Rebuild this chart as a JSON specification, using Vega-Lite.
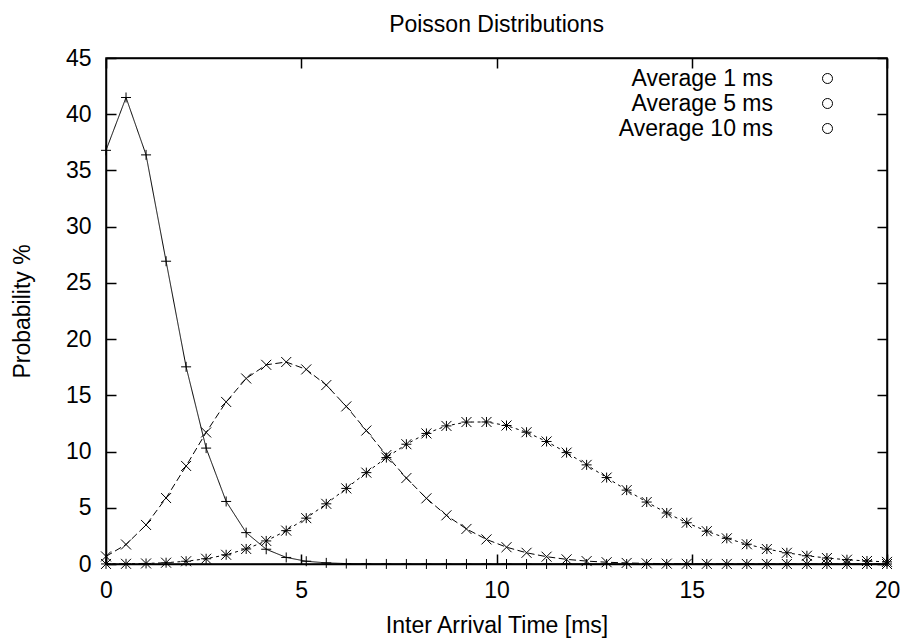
{
  "$schema": "https://vega.github.io/schema/vega-lite/v6.json",
  "autosize": "none",
  "width": 781,
  "height": 506,
  "padding": {"left": 106, "top": 58, "right": 17, "bottom": 75},
  "background": "white",
  "title": {"text": "Poisson Distributions", "fontSize": 23, "fontWeight": "normal", "color": "#000", "font": "Liberation Sans", "offset": 10, "frame": "group", "anchor": "middle"},
  "config": {
    "font": "Liberation Sans",
    "view": {"stroke": "#000", "strokeWidth": 1.5}
  },
  "data": {"values": [
    {"t": 0, "p": 36.788, "s": "Average 1 ms"},
    {"t": 0.5128, "p": 41.488, "s": "Average 1 ms"},
    {"t": 1.0256, "p": 36.384, "s": "Average 1 ms"},
    {"t": 1.5385, "p": 26.926, "s": "Average 1 ms"},
    {"t": 2.0513, "p": 17.535, "s": "Average 1 ms"},
    {"t": 2.5641, "p": 10.307, "s": "Average 1 ms"},
    {"t": 3.0769, "p": 5.562, "s": "Average 1 ms"},
    {"t": 3.5897, "p": 2.789, "s": "Average 1 ms"},
    {"t": 4.1026, "p": 1.312, "s": "Average 1 ms"},
    {"t": 4.6154, "p": 0.583, "s": "Average 1 ms"},
    {"t": 5.1282, "p": 0.246, "s": "Average 1 ms"},
    {"t": 5.641, "p": 0.099, "s": "Average 1 ms"},
    {"t": 6.1538, "p": 0.038, "s": "Average 1 ms"},
    {"t": 6.6667, "p": 0.014, "s": "Average 1 ms"},
    {"t": 7.1795, "p": 0.005, "s": "Average 1 ms"},
    {"t": 7.6923, "p": 0.002, "s": "Average 1 ms"},
    {"t": 8.2051, "p": 0.001, "s": "Average 1 ms"},
    {"t": 8.7179, "p": 0.0002, "s": "Average 1 ms"},
    {"t": 9.2308, "p": 0.0001, "s": "Average 1 ms"},
    {"t": 9.7436, "p": 0, "s": "Average 1 ms"},
    {"t": 10.2564, "p": 0, "s": "Average 1 ms"},
    {"t": 10.7692, "p": 0, "s": "Average 1 ms"},
    {"t": 11.2821, "p": 0, "s": "Average 1 ms"},
    {"t": 11.7949, "p": 0, "s": "Average 1 ms"},
    {"t": 12.3077, "p": 0, "s": "Average 1 ms"},
    {"t": 12.8205, "p": 0, "s": "Average 1 ms"},
    {"t": 13.3333, "p": 0, "s": "Average 1 ms"},
    {"t": 13.8462, "p": 0, "s": "Average 1 ms"},
    {"t": 14.359, "p": 0, "s": "Average 1 ms"},
    {"t": 14.8718, "p": 0, "s": "Average 1 ms"},
    {"t": 15.3846, "p": 0, "s": "Average 1 ms"},
    {"t": 15.8974, "p": 0, "s": "Average 1 ms"},
    {"t": 16.4103, "p": 0, "s": "Average 1 ms"},
    {"t": 16.9231, "p": 0, "s": "Average 1 ms"},
    {"t": 17.4359, "p": 0, "s": "Average 1 ms"},
    {"t": 17.9487, "p": 0, "s": "Average 1 ms"},
    {"t": 18.4615, "p": 0, "s": "Average 1 ms"},
    {"t": 18.9744, "p": 0, "s": "Average 1 ms"},
    {"t": 19.4872, "p": 0, "s": "Average 1 ms"},
    {"t": 20, "p": 0, "s": "Average 1 ms"},
    {"t": 0, "p": 0.674, "s": "Average 5 ms"},
    {"t": 0.5128, "p": 1.735, "s": "Average 5 ms"},
    {"t": 1.0256, "p": 3.472, "s": "Average 5 ms"},
    {"t": 1.5385, "p": 5.866, "s": "Average 5 ms"},
    {"t": 2.0513, "p": 8.72, "s": "Average 5 ms"},
    {"t": 2.5641, "p": 11.7, "s": "Average 5 ms"},
    {"t": 3.0769, "p": 14.412, "s": "Average 5 ms"},
    {"t": 3.5897, "p": 16.499, "s": "Average 5 ms"},
    {"t": 4.1026, "p": 17.713, "s": "Average 5 ms"},
    {"t": 4.6154, "p": 17.963, "s": "Average 5 ms"},
    {"t": 5.1282, "p": 17.305, "s": "Average 5 ms"},
    {"t": 5.641, "p": 15.911, "s": "Average 5 ms"},
    {"t": 6.1538, "p": 14.016, "s": "Average 5 ms"},
    {"t": 6.6667, "p": 11.869, "s": "Average 5 ms"},
    {"t": 7.1795, "p": 9.69, "s": "Average 5 ms"},
    {"t": 7.6923, "p": 7.644, "s": "Average 5 ms"},
    {"t": 8.2051, "p": 5.84, "s": "Average 5 ms"},
    {"t": 8.7179, "p": 4.329, "s": "Average 5 ms"},
    {"t": 9.2308, "p": 3.118, "s": "Average 5 ms"},
    {"t": 9.7436, "p": 2.187, "s": "Average 5 ms"},
    {"t": 10.2564, "p": 1.494, "s": "Average 5 ms"},
    {"t": 10.7692, "p": 0.997, "s": "Average 5 ms"},
    {"t": 11.2821, "p": 0.649, "s": "Average 5 ms"},
    {"t": 11.7949, "p": 0.414, "s": "Average 5 ms"},
    {"t": 12.3077, "p": 0.258, "s": "Average 5 ms"},
    {"t": 12.8205, "p": 0.158, "s": "Average 5 ms"},
    {"t": 13.3333, "p": 0.094, "s": "Average 5 ms"},
    {"t": 13.8462, "p": 0.056, "s": "Average 5 ms"},
    {"t": 14.359, "p": 0.032, "s": "Average 5 ms"},
    {"t": 14.8718, "p": 0.018, "s": "Average 5 ms"},
    {"t": 15.3846, "p": 0.01, "s": "Average 5 ms"},
    {"t": 15.8974, "p": 0.006, "s": "Average 5 ms"},
    {"t": 16.4103, "p": 0.003, "s": "Average 5 ms"},
    {"t": 16.9231, "p": 0.002, "s": "Average 5 ms"},
    {"t": 17.4359, "p": 0.001, "s": "Average 5 ms"},
    {"t": 17.9487, "p": 0.0004, "s": "Average 5 ms"},
    {"t": 18.4615, "p": 0.0002, "s": "Average 5 ms"},
    {"t": 18.9744, "p": 0.0001, "s": "Average 5 ms"},
    {"t": 19.4872, "p": 0.0001, "s": "Average 5 ms"},
    {"t": 20, "p": 0, "s": "Average 5 ms"},
    {"t": 0, "p": 0.005, "s": "Average 10 ms"},
    {"t": 0.5128, "p": 0.017, "s": "Average 10 ms"},
    {"t": 1.0256, "p": 0.048, "s": "Average 10 ms"},
    {"t": 1.5385, "p": 0.115, "s": "Average 10 ms"},
    {"t": 2.0513, "p": 0.244, "s": "Average 10 ms"},
    {"t": 2.5641, "p": 0.466, "s": "Average 10 ms"},
    {"t": 3.0769, "p": 0.819, "s": "Average 10 ms"},
    {"t": 3.5897, "p": 1.338, "s": "Average 10 ms"},
    {"t": 4.1026, "p": 2.05, "s": "Average 10 ms"},
    {"t": 4.6154, "p": 2.967, "s": "Average 10 ms"},
    {"t": 5.1282, "p": 4.078, "s": "Average 10 ms"},
    {"t": 5.641, "p": 5.35, "s": "Average 10 ms"},
    {"t": 6.1538, "p": 6.724, "s": "Average 10 ms"},
    {"t": 6.6667, "p": 8.125, "s": "Average 10 ms"},
    {"t": 7.1795, "p": 9.464, "s": "Average 10 ms"},
    {"t": 7.6923, "p": 10.652, "s": "Average 10 ms"},
    {"t": 8.2051, "p": 11.612, "s": "Average 10 ms"},
    {"t": 8.7179, "p": 12.281, "s": "Average 10 ms"},
    {"t": 9.2308, "p": 12.624, "s": "Average 10 ms"},
    {"t": 9.7436, "p": 12.63, "s": "Average 10 ms"},
    {"t": 10.2564, "p": 12.316, "s": "Average 10 ms"},
    {"t": 10.7692, "p": 11.72, "s": "Average 10 ms"},
    {"t": 11.2821, "p": 10.896, "s": "Average 10 ms"},
    {"t": 11.7949, "p": 9.906, "s": "Average 10 ms"},
    {"t": 12.3077, "p": 8.815, "s": "Average 10 ms"},
    {"t": 12.8205, "p": 7.686, "s": "Average 10 ms"},
    {"t": 13.3333, "p": 6.57, "s": "Average 10 ms"},
    {"t": 13.8462, "p": 5.51, "s": "Average 10 ms"},
    {"t": 14.359, "p": 4.537, "s": "Average 10 ms"},
    {"t": 14.8718, "p": 3.671, "s": "Average 10 ms"},
    {"t": 15.3846, "p": 2.919, "s": "Average 10 ms"},
    {"t": 15.8974, "p": 2.284, "s": "Average 10 ms"},
    {"t": 16.4103, "p": 1.758, "s": "Average 10 ms"},
    {"t": 16.9231, "p": 1.332, "s": "Average 10 ms"},
    {"t": 17.4359, "p": 0.995, "s": "Average 10 ms"},
    {"t": 17.9487, "p": 0.732, "s": "Average 10 ms"},
    {"t": 18.4615, "p": 0.531, "s": "Average 10 ms"},
    {"t": 18.9744, "p": 0.38, "s": "Average 10 ms"},
    {"t": 19.4872, "p": 0.268, "s": "Average 10 ms"},
    {"t": 20, "p": 0.187, "s": "Average 10 ms"}
  ]},
  "resolve": {"axis": {"x": "independent", "y": "independent"}},
  "layer": [
    {
      "mark": {"type": "line", "stroke": "#000", "strokeWidth": 1, "interpolate": "linear"},
      "encoding": {
        "x": {"field": "t", "type": "quantitative",
          "scale": {"domain": [0, 20], "nice": false, "zero": false},
          "axis": {"orient": "bottom", "values": [0, 5, 10, 15, 20], "tickSize": -10, "tickColor": "#000", "tickWidth": 1.5,
            "domainColor": "#000", "domainWidth": 1.5, "grid": false,
            "labelFontSize": 23, "labelColor": "#000", "labelPadding": 25, "labelFlush": false, "labelOverlap": false,
            "title": "Inter Arrival Time [ms]", "titleFontSize": 23, "titleFontWeight": "normal", "titleColor": "#000", "titlePadding": 12}},
        "y": {"field": "p", "type": "quantitative",
          "scale": {"domain": [0, 45], "nice": false},
          "axis": {"orient": "left", "values": [0, 5, 10, 15, 20, 25, 30, 35, 40, 45], "tickSize": -10, "tickColor": "#000", "tickWidth": 1.5,
            "domainColor": "#000", "domainWidth": 1.5, "grid": false,
            "labelFontSize": 23, "labelColor": "#000", "labelPadding": 25, "labelFlush": false, "labelOverlap": false,
            "title": "Probability %", "titleFontSize": 23, "titleFontWeight": "normal", "titleColor": "#000", "titlePadding": 31}},
        "detail": {"field": "s", "type": "nominal"},
        "strokeDash": {"field": "s", "type": "nominal",
          "scale": {"domain": ["Average 5 ms", "Average 1 ms", "Average 10 ms"], "range": [[7, 3.5], [1, 0], [3, 3.5]]},
          "legend": null}
      }
    },
    {
      "mark": {"type": "point", "filled": false, "stroke": "#000", "strokeWidth": 1, "size": 100},
      "encoding": {
        "x": {"field": "t", "type": "quantitative",
          "axis": {"orient": "top", "values": [0, 5, 10, 15, 20], "tickSize": -10, "tickColor": "#000", "tickWidth": 1.5,
            "domainColor": "#000", "domainWidth": 1.5, "grid": false, "labels": false, "title": null}},
        "y": {"field": "p", "type": "quantitative",
          "axis": {"orient": "right", "values": [0, 5, 10, 15, 20, 25, 30, 35, 40, 45], "tickSize": -10, "tickColor": "#000", "tickWidth": 1.5,
            "domainColor": "#000", "domainWidth": 1.5, "grid": false, "labels": false, "title": null}},
        "shape": {"field": "s", "type": "nominal",
          "scale": {"domain": ["Average 10 ms", "Average 1 ms", "Average 5 ms"],
            "range": ["M-1,0H1M0,-1V1M-1,-1L1,1M-1,1L1,-1", "M-1,0H1M0,-1V1", "M-1,-1L1,1M-1,1L1,-1"]},
          "legend": null},
        "opacity": {"field": "s", "type": "nominal",
          "scale": {"type": "ordinal", "domain": ["Average 1 ms", "Average 5 ms", "Average 10 ms"], "range": [1, 1, 1]},
          "legend": {
            "orient": "none", "legendX": 710, "legendY": 9, "title": null, "padding": 0,
            "labelFontSize": 23, "labelFont": "Liberation Sans", "labelColor": "#000", "labelAlign": "right", "labelOffset": -66, "labelLimit": 400,
            "symbolOffset": 0,
            "symbolSize": 100, "symbolStrokeWidth": 1, "symbolStrokeColor": "#000", "rowPadding": 1,
            "encode": {"symbols": {"update": {
              "stroke": {"value": "#000"},
              "fill": {"value": "transparent"},
              "strokeWidth": {"value": 1},
              "shape": [
                {"test": "datum.value === 'Average 1 ms'", "value": "M-6.1,0H6.1M0,-1V1"},
                {"test": "datum.value === 'Average 5 ms'", "value": "M-6.1,0H-5.1M-4.5,0H-3.5M-2.9,0H-1.9M-1.3,0H1.3M1.9,0H2.9M3.5,0H4.5M5.1,0H6.1M-1,-1L1,1M-1,1L1,-1"},
                {"value": "M-6.1,0H-5.6M-4.8,0H-4.3M-3.5,0H-3M-2.2,0H-1.7M1.7,0H2.2M3,0H3.5M4.3,0H4.8M5.6,0H6.1M-1,0H1M0,-1V1M-1,-1L1,1M-1,1L1,-1"}
              ]
            }}}
          }}
      }
    }
  ]
}
